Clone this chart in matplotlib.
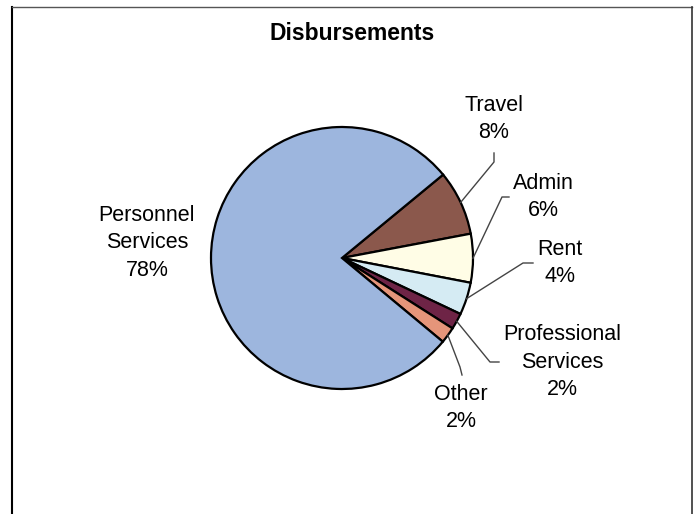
import numpy as np
import matplotlib
matplotlib.use("Agg")
import matplotlib.pyplot as plt

# data, in the order the slices run clockwise from the top right
categories = ["Travel", "Admin", "Rent", "Professional\nServices", "Other", "Personnel\nServices"]
shares = [8, 6, 4, 2, 2, 78]
colors = ["#8b584c", "#fffde6", "#d5ebf3", "#6e2446", "#e5957a", "#9db6de"]

# label layout in pixel coordinates: text centre, then the elbow and end of the leader
label_pos = [(494, 119), (543, 197), (560, 263), (562, 362), (461, 408), (147, 243)]
leader_elbow = [(494, 162), (502, 197), (523, 263), (490, 362), (460, 367), None]
leader_end = [(494, 153), (509, 197), (533, 263), (499, 362), (462, 375), None]

W, H = 694, 514
fig = plt.figure(figsize=(W / 100, H / 100), dpi=100)
ax = fig.add_axes([0, 0, 1, 1])

cx, cy, r = 342, 258, 131
# y axis points down (pixel coords), so counter-clockwise in data is clockwise on screen
wedges, _ = ax.pie(shares, colors=colors, startangle=-39.5, counterclock=True,
                   center=(cx, cy), radius=r, frame=True,
                   wedgeprops=dict(edgecolor="black", linewidth=1.6))
ax.set_xlim(0, W)
ax.set_ylim(H, 0)
ax.set_aspect("equal")
ax.axis("off")

for i, w in enumerate(wedges):
    mid = np.deg2rad((w.theta1 + w.theta2) / 2)
    lx, ly = label_pos[i]
    ax.text(lx, ly, f"{categories[i]}\n{shares[i]}%", ha="center", va="center",
            fontsize=15.5, family="Liberation Sans", linespacing=1.42)
    if leader_elbow[i] is not None:
        sx = cx + r * np.cos(mid)
        sy = cy + r * np.sin(mid)
        ex, ey = leader_elbow[i]
        fx, fy = leader_end[i]
        ax.plot([sx, ex, fx], [sy, ey, fy], color="#444444", linewidth=1.0)

ax.text(352, 33, "Disbursements", ha="center", va="center", fontsize=16.5,
        fontweight="bold", family="Liberation Sans")

# frame around the chart
ax.plot([12, 12], [H + 5, 7], color="black", linewidth=1.5, clip_on=False)
ax.plot([12, 692], [7, 7], color="#555555", linewidth=1.0)
ax.plot([692, 692], [7, H + 5], color="#333333", linewidth=1.2, clip_on=False)

fig.savefig("out.png", dpi=100)
